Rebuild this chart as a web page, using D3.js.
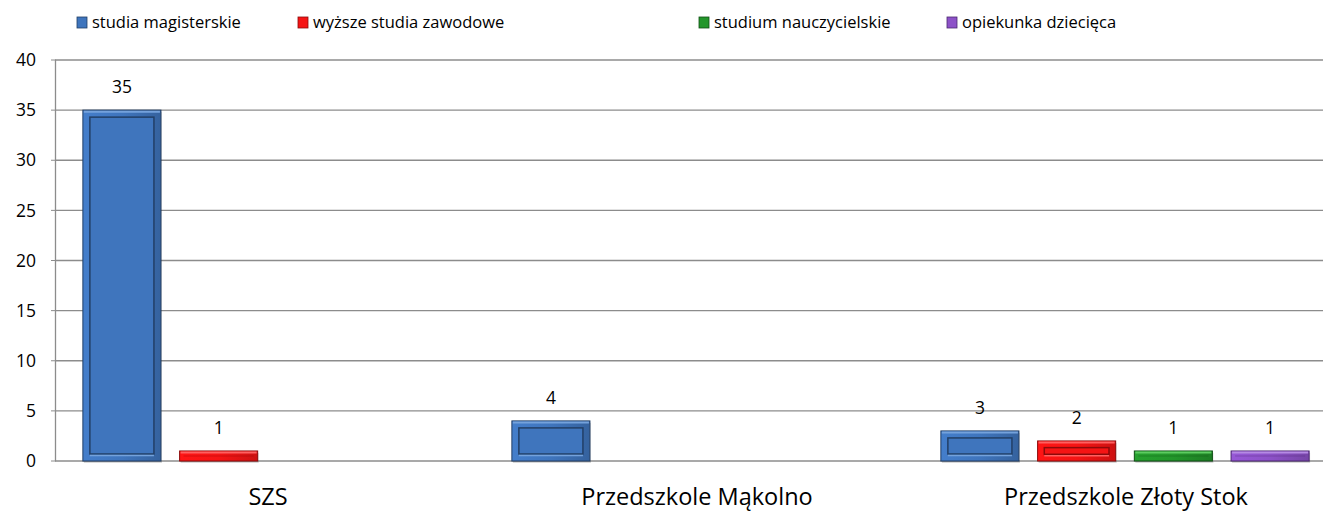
<!DOCTYPE html>
<html><head><meta charset="utf-8">
<script src="https://cdn.jsdelivr.net/npm/d3@7"></script>
<style>body{margin:0;background:#fff}svg{display:block}text{font-family:"Open Sans","Noto Sans",sans-serif;fill:#000}</style>
</head><body><svg id="c" width="1323" height="511"></svg>
<script>
const categories = ["SZS", "Przedszkole Mąkolno", "Przedszkole Złoty Stok"];
const seriesNames = ["studia magisterskie", "wyższe studia zawodowe", "studium nauczycielskie", "opiekunka dziecięca"];
const studiaMagisterskie = [35, 4, 3];
const wyzszeStudiaZawodowe = [1, null, 2];
const studiumNauczycielskie = [null, null, 1];
const opiekunkaDziecieca = [null, null, 1];
const yTicks = [0, 5, 10, 15, 20, 25, 30, 35, 40];
const seriesValues = [studiaMagisterskie, wyzszeStudiaZawodowe, studiumNauczycielskie, opiekunkaDziecieca];
const colors = ["#3f75bd", "#f51414", "#23962b", "#8d52c8"];
const darks = ["#223f66", "#8c0a0a", "#0f4f14", "#4b2870"];
const lights = ["#74a2dc", "#ff6060", "#5ccc60", "#b58ae4"];

const svg = d3.select("#c");
const left = 52.5, bandW = 429;
const x0 = d3.scaleBand().domain(categories).range([left, left + bandW * 3]);
const x1 = d3.scaleBand().domain(seriesNames).range([0, bandW]).paddingInner(0.193).paddingOuter(0.314);
const y = d3.scaleLinear().domain([0, 40]).range([461, 60]);

// grid
const g = svg.append("g");
g.selectAll("line.grid").data(yTicks).join("line")
  .attr("x1", 55).attr("x2", 1323).attr("y1", d => y(d)).attr("y2", d => y(d))
  .attr("stroke", "#8c8c8c").attr("stroke-width", 1.3);
g.append("line").attr("x1", 55.5).attr("x2", 55.5).attr("y1", y(40)).attr("y2", y(0)).attr("stroke", "#8c8c8c").attr("stroke-width", 1.3);
g.selectAll("line.tick").data(yTicks).join("line")
  .attr("x1", 51).attr("x2", 56).attr("y1", d => y(d)).attr("y2", d => y(d)).attr("stroke", "#8c8c8c");
g.selectAll("text.yl").data(yTicks).join("text")
  .attr("x", 36).attr("y", d => y(d)).attr("dy", "0.35em").attr("text-anchor", "end")
  .attr("font-size", 17.5).text(d => d);

// bars
const defs = svg.append("defs");
colors.forEach((c, i) => {
  const lg = defs.append("linearGradient").attr("id", "gr" + i).attr("x1", 0).attr("x2", 1).attr("y1", 0).attr("y2", 0);
  lg.append("stop").attr("offset", "0").attr("stop-color", d3.color(c).brighter(0.2));
  lg.append("stop").attr("offset", "0.5").attr("stop-color", c);
  lg.append("stop").attr("offset", "1").attr("stop-color", d3.color(c).darker(0.5));
});
const bars = [];
seriesValues.forEach((vals, si) => vals.forEach((v, ci) => {
  if (v != null) bars.push({ s: si, c: ci, v });
}));
const bg = svg.append("g");
bars.forEach(b => {
  const bx = x0(categories[b.c]) + x1(seriesNames[b.s]);
  const bw = x1.bandwidth();
  const top = y(b.v), h = y(0) - top;
  bg.append("rect").attr("x", bx + 1).attr("y", top + 2).attr("width", bw).attr("height", h)
    .attr("fill", "#000").attr("opacity", 0.15);
  bg.append("rect").attr("x", bx).attr("y", top).attr("width", bw).attr("height", h)
    .attr("fill", `url(#gr${b.s})`).attr("stroke", darks[b.s]).attr("stroke-width", 1);
  bg.append("line").attr("x1", bx + 1).attr("x2", bx + bw - 1).attr("y1", top + 1.5).attr("y2", top + 1.5)
    .attr("stroke", lights[b.s]).attr("stroke-width", 2);
  const ins = Math.min(7, h / 3);
  if (h > 12) {
    bg.append("rect").attr("x", bx + ins).attr("y", top + ins).attr("width", bw - 2 * ins).attr("height", h - 2 * ins)
      .attr("fill", colors[b.s]).attr("stroke", darks[b.s]).attr("stroke-width", 1.5);
    bg.append("line").attr("x1", bx + ins).attr("x2", bx + bw - ins).attr("y1", y(0) - ins + 1.5).attr("y2", y(0) - ins + 1.5)
      .attr("stroke", lights[b.s]).attr("stroke-width", 1.5);
  } else {
    bg.append("line").attr("x1", bx + 4).attr("x2", bx + bw - 4).attr("y1", top + h / 2).attr("y2", top + h / 2)
      .attr("stroke", darks[b.s]).attr("stroke-width", 0.8).attr("opacity", 0.4);
  }
  svg.append("text").attr("x", bx + bw / 2).attr("y", top - 23).attr("dy", "0.35em")
    .attr("text-anchor", "middle").attr("font-size", 17.5).text(b.v);
});

// x labels
svg.selectAll("text.xl").data(categories).join("text")
  .attr("x", d => x0(d) + bandW / 2 + 1).attr("y", 505)
  .attr("text-anchor", "middle").attr("font-size", 23.5).text(d => d);

// legend
const legX = [77, 298, 699, 947];
seriesNames.forEach((n, i) => {
  const lgp = svg.append("g").attr("transform", `translate(${legX[i]},17)`);
  lgp.append("rect").attr("width", 10).attr("height", 11).attr("fill", colors[i]).attr("stroke", darks[i]).attr("stroke-width", 0.8);
  lgp.append("text").attr("x", 15).attr("y", 5.5).attr("dy", "0.35em").attr("font-size", 16.5).text(n);
});
</script></body></html>
